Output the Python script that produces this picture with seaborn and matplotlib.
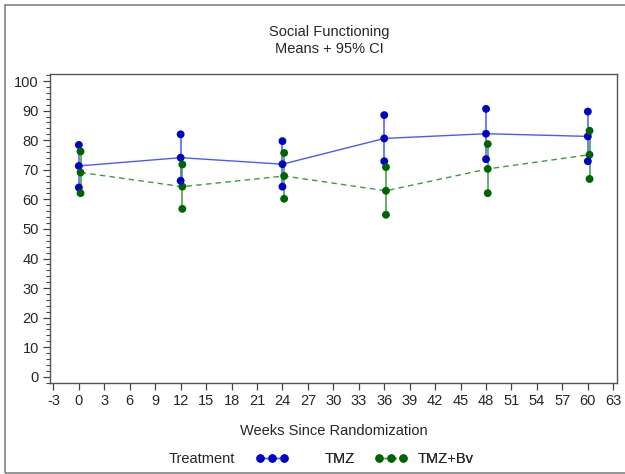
import numpy as np
import matplotlib
matplotlib.use("Agg")
import matplotlib.pyplot as plt
import pandas as pd
import seaborn as sb
from matplotlib.lines import Line2D
from matplotlib.patches import Rectangle
from matplotlib.ticker import MultipleLocator

## Données
weeks = [0, 12, 24, 36, 48, 60]
tmz_mean = [71.3, 74.1, 71.9, 80.6, 82.2, 81.3]
tmz_lower = [64.0, 66.3, 64.3, 72.9, 73.6, 72.9]
tmz_upper = [78.4, 82.0, 79.7, 88.5, 90.6, 89.7]
bv_mean = [69.1, 64.3, 67.9, 62.9, 70.3, 75.1]
bv_lower = [62.1, 56.8, 60.2, 54.8, 62.1, 66.9]
bv_upper = [76.2, 71.8, 75.7, 70.9, 78.7, 83.2]
groups = ["TMZ", "TMZ+Bv"]

sb.set_style("ticks")
plt.rcParams['font.family'] = ['Liberation Sans', 'DejaVu Sans']
plt.rcParams['font.size'] = 10.5
plt.rcParams['axes.unicode_minus'] = False

# couleurs (lignes plus claires, points foncés)
line_col = {"TMZ": "#4a5cf0", "TMZ+Bv": "#3f9a3f"}
dot_col = {"TMZ": "#0000c8", "TMZ+Bv": "#006400"}
shift = {"TMZ": 0.0, "TMZ+Bv": 0.2}

df = pd.concat([
    pd.DataFrame({"Week": weeks, "Mean": tmz_mean, "Lower": tmz_lower,
                  "Upper": tmz_upper, "Treatment": "TMZ"}),
    pd.DataFrame({"Week": weeks, "Mean": bv_mean, "Lower": bv_lower,
                  "Upper": bv_upper, "Treatment": "TMZ+Bv"}),
], ignore_index=True)
df["x"] = df["Week"] + df["Treatment"].map(shift)

fig = plt.figure(figsize=(6.25, 4.74), dpi=100)
ax = fig.add_axes([0.08, 0.1926, 0.9067, 0.6513])

# intervalles de confiance
for g in groups:
    d = df[df["Treatment"] == g]
    ax.vlines(d["x"], d["Lower"], d["Upper"], color=line_col[g], lw=1.1, zorder=2)

# lignes des moyennes
sb.lineplot(data=df, x="x", y="Mean", hue="Treatment", style="Treatment",
            palette=line_col, dashes={"TMZ": "", "TMZ+Bv": (4, 3)},
            lw=1.0, legend=False, ax=ax, zorder=3)

# points : moyennes et bornes
for col in ["Mean", "Lower", "Upper"]:
    sb.scatterplot(data=df, x="x", y=col, hue="Treatment", palette=dot_col,
                   s=32, edgecolor="none", legend=False, ax=ax, zorder=4)

ax.set_xlim(-3.4, 63.4)
ax.set_ylim(-2.0, 102.4)
ax.set_xticks(np.arange(-3, 64, 3))
ax.set_yticks(np.arange(0, 101, 10))
ax.yaxis.set_minor_locator(MultipleLocator(2))
ax.tick_params(axis="both", which="major", length=5, width=0.9, color="#444444",
               labelsize=10.5, pad=3)
ax.tick_params(axis="y", which="minor", length=3, width=0.8, color="#444444")
for sp in ax.spines.values():
    sp.set_visible(True)
    sp.set_color("#555555")
    sp.set_linewidth(1.0)
ax.set_xlabel("Weeks Since Randomization", fontsize=10.5, labelpad=12)
ax.set_ylabel("")

fig.text(0.527, 1 - 32 / 474, "Social Functioning", ha="center", va="center", fontsize=10.5)
fig.text(0.527, 1 - 49 / 474, "Means + 95% CI", ha="center", va="center", fontsize=10.5)

# légende horizontale en bas : une entrée par traitement
leg_y = 1 - 459 / 474
fig.text(235 / 625, leg_y, "Treatment", ha="right", va="center", fontsize=10.5)
for g, x0, pad in [("TMZ", 256 / 625, 2.5), ("TMZ+Bv", 375 / 625, 0.7)]:
    h = Line2D([], [], color=line_col[g], ls="-" if g == "TMZ" else (0, (2, 1.5)),
               lw=1.0, marker="o", markersize=5, markerfacecolor=dot_col[g],
               markeredgecolor=dot_col[g])
    fig.add_artist(fig.legend([h], [g], loc="center left", bbox_to_anchor=(x0, leg_y),
                              frameon=False, numpoints=3, handlelength=2.2,
                              handletextpad=pad, fontsize=10.5, borderpad=0,
                              borderaxespad=0))

# cadre gris autour de l'image
fig.patches.append(Rectangle((5 / 625, 1.5 / 474), 1.0, 467.5 / 474, transform=fig.transFigure,
                             fill=False, ec="#8c8c8c", lw=1.3))

plt.savefig("out.png", dpi=100)
